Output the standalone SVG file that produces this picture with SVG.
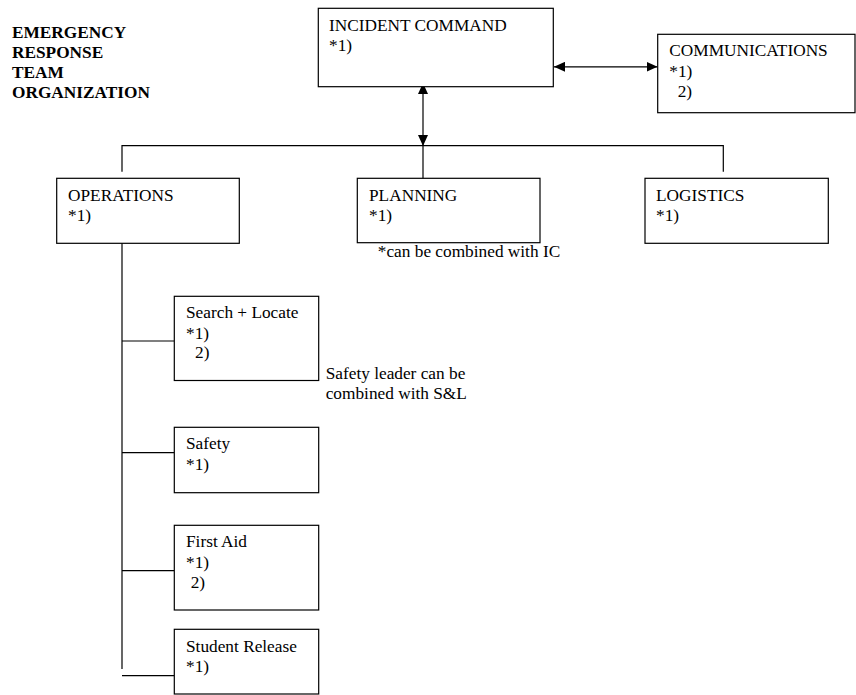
<svg xmlns="http://www.w3.org/2000/svg" width="856" height="695" viewBox="0 0 856 695">
<style>
text{font-family:"Liberation Serif","Times New Roman",serif;font-size:17.3px;fill:#000}
.title{font-weight:bold}
.box{fill:#fff;stroke:#000;stroke-width:1.2}
.ln{fill:none;stroke:#000;stroke-width:1.2}
</style>
<defs>
<marker id="ah" viewBox="0 0 11 10" refX="11" refY="5" markerWidth="11" markerHeight="10" markerUnits="userSpaceOnUse" orient="auto-start-reverse">
<path d="M0,0 L11,5 L0,10 Z" fill="#000"/>
</marker>
</defs>
<rect width="856" height="695" fill="#fff"/>
<g id="title" class="title">
<text x="12" y="37.7" class="title">EMERGENCY</text>
<text x="12" y="57.7" class="title">RESPONSE</text>
<text x="12" y="77.7" class="title">TEAM</text>
<text x="12" y="97.5" class="title">ORGANIZATION</text>
</g>
<g id="connectors">
<line class="ln" x1="423" y1="83" x2="423" y2="146" marker-start="url(#ah)" marker-end="url(#ah)"/>
<line class="ln" x1="423" y1="146" x2="423" y2="184"/>
<line class="ln" x1="554" y1="66.8" x2="657.5" y2="66.8" marker-start="url(#ah)" marker-end="url(#ah)"/>
<polyline class="ln" points="122,171.7 122,145.7 723.3,145.7 723.3,171.7"/>
<line class="ln" x1="122" y1="237" x2="122" y2="669"/>
<line class="ln" x1="122" y1="341" x2="174.3" y2="341"/>
<line class="ln" x1="122" y1="452.7" x2="174.3" y2="452.7"/>
<line class="ln" x1="122" y1="570.7" x2="174.3" y2="570.7"/>
<line class="ln" x1="122" y1="675.7" x2="174.3" y2="675.7"/>
</g>
<g id="incident-command">
<rect class="box" x="318.3" y="8.3" width="235" height="78.4"/>
<text x="329" y="30.7">INCIDENT COMMAND</text>
<text x="329" y="50.7">*1)</text>
</g>
<g id="communications">
<rect class="box" x="657.7" y="34.3" width="197.3" height="78.4"/>
<text x="669.3" y="56.3">COMMUNICATIONS</text>
<text x="669.3" y="76.7">*1)</text>
<text x="677.7" y="97.3">2)</text>
</g>
<g id="operations">
<rect class="box" x="56.7" y="178.3" width="182.6" height="65"/>
<text x="68" y="200.8">OPERATIONS</text>
<text x="68" y="221.3">*1)</text>
</g>
<g id="planning">
<rect class="box" x="357.3" y="178.3" width="182.7" height="64.4"/>
<text x="369" y="200.8">PLANNING</text>
<text x="369" y="221.3">*1)</text>
</g>
<g id="logistics">
<rect class="box" x="645" y="178.3" width="183.3" height="65"/>
<text x="656" y="200.8">LOGISTICS</text>
<text x="656" y="221.3">*1)</text>
</g>
<g id="note-planning">
<text x="377.8" y="256.5">*can be combined with IC</text>
</g>
<g id="search-locate">
<rect class="box" x="174.3" y="296.3" width="144.4" height="84.2"/>
<text x="186" y="318.3">Search + Locate</text>
<text x="186" y="338.6">*1)</text>
<text x="195" y="358.3">2)</text>
</g>
<g id="note-safety">
<text x="325.7" y="378.6">Safety leader can be</text>
<text x="325.7" y="399">combined with S&amp;L</text>
</g>
<g id="safety">
<rect class="box" x="174.3" y="427.3" width="144.4" height="65.4"/>
<text x="186" y="449.3">Safety</text>
<text x="186" y="470">*1)</text>
</g>
<g id="first-aid">
<rect class="box" x="174.3" y="525.3" width="144.4" height="84.7"/>
<text x="186" y="547.3">First Aid</text>
<text x="186" y="568">*1)</text>
<text x="190.7" y="588.3">2)</text>
</g>
<g id="student-release">
<rect class="box" x="174.3" y="629.3" width="144.4" height="64.7"/>
<text x="186" y="651.7">Student Release</text>
<text x="186" y="672.3">*1)</text>
</g>
</svg>
